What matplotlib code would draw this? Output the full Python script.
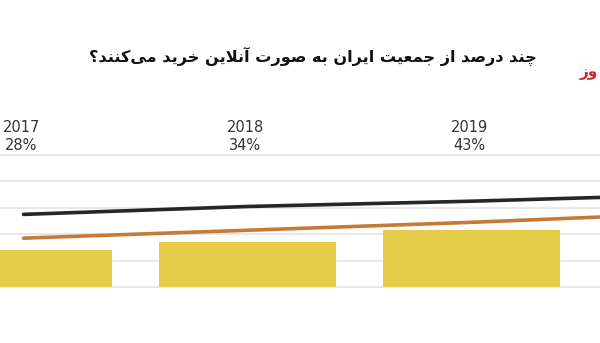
"""Share of Iran's population that shops online (cropped bar + line chart)."""
import matplotlib

matplotlib.use("Agg")
import matplotlib.pyplot as plt

years = ["2017", "2018", "2019", "2020"]
online_share = [28, 34, 43]          # yellow bars, labelled values
black_series = [55, 61, 65, 70]      # dark line
orange_series = [37, 43, 49, 56]     # orange line
grid_values = [0, 20, 40, 60, 80, 100]

TITLE = "چند درصد از جمعیت ایران به صورت آنلاین خرید می\u200cکنند؟"
LOGO = "وز"

# minimal Persian shaping: (isolated, final, initial, medial)
FORMS = {
    "ا": ("\uFE8D", "\uFE8E", None, None),
    "آ": ("\uFE81", "\uFE82", None, None),
    "ب": ("\uFE8F", "\uFE90", "\uFE91", "\uFE92"),
    "ت": ("\uFE95", "\uFE96", "\uFE97", "\uFE98"),
    "ج": ("\uFE9D", "\uFE9E", "\uFE9F", "\uFEA0"),
    "چ": ("\uFB7A", "\uFB7B", "\uFB7C", "\uFB7D"),
    "خ": ("\uFEA5", "\uFEA6", "\uFEA7", "\uFEA8"),
    "د": ("\uFEA9", "\uFEAA", None, None),
    "ر": ("\uFEAD", "\uFEAE", None, None),
    "ز": ("\uFEAF", "\uFEB0", None, None),
    "ص": ("\uFEB9", "\uFEBA", "\uFEBB", "\uFEBC"),
    "ع": ("\uFEC9", "\uFECA", "\uFECB", "\uFECC"),
    "ل": ("\uFEDD", "\uFEDE", "\uFEDF", "\uFEE0"),
    "م": ("\uFEE1", "\uFEE2", "\uFEE3", "\uFEE4"),
    "ن": ("\uFEE5", "\uFEE6", "\uFEE7", "\uFEE8"),
    "ه": ("\uFEE9", "\uFEEA", "\uFEEB", "\uFEEC"),
    "و": ("\uFEED", "\uFEEE", None, None),
    "ی": ("\uFBFC", "\uFBFD", "\uFBFE", "\uFBFF"),
    "ک": ("\uFB8E", "\uFB8F", "\uFB90", "\uFB91"),
}
LAM_ALEF = {"ا": ("\uFEFB", "\uFEFC"), "آ": ("\uFEF5", "\uFEF6")}


def joins_next(c):
    return c in FORMS and FORMS[c][2] is not None


def shape(text):
    out = []
    i = 0
    while i < len(text):
        c = text[i]
        if c == "\u200c":
            i += 1
            continue
        if c not in FORMS:
            out.append(c)
            i += 1
            continue
        prev_join = i > 0 and joins_next(text[i - 1])
        if c == "ل" and i + 1 < len(text) and text[i + 1] in LAM_ALEF:
            out.append(LAM_ALEF[text[i + 1]][1 if prev_join else 0])
            i += 2
            continue
        nxt = text[i + 1] if i + 1 < len(text) else ""
        next_join = joins_next(c) and nxt in FORMS
        iso, fin, ini, med = FORMS[c]
        if prev_join and next_join:
            out.append(med)
        elif prev_join:
            out.append(fin)
        elif next_join:
            out.append(ini)
        else:
            out.append(iso)
        i += 1
    return "".join(reversed(out))


fig = plt.figure(figsize=(6, 3.43), dpi=100)
ax = fig.add_axes([0, 0, 1, 1])

# 224 px per category, first category centred at 23.5 px; 1.32 px per percent
ax.set_xlim(-23.5 / 224, (600 - 23.5) / 224)
ax.set_ylim(-(343 - 287) / 1.32, 287 / 1.32)

x_bars = list(range(len(online_share)))
x_lines = list(range(len(years)))

ax.bar(x_bars, online_share, width=0.79, color="#e5cc48", zorder=2)
ax.plot(x_lines, orange_series, color="#c57a35", lw=2.6,
        solid_capstyle="round", zorder=3)
ax.plot(x_lines, black_series, color="#262626", lw=2.6,
        solid_capstyle="round", zorder=3)

ax.set_yticks(grid_values)
ax.grid(axis="y", color="#e2e2e2", lw=1.1, zorder=0)
ax.set_axisbelow(True)
ax.tick_params(left=False, bottom=False, labelleft=False, labelbottom=False)
for s in ax.spines.values():
    s.set_visible(False)

label_font = ["Liberation Sans Narrow", "DejaVu Sans"]
for i, v in enumerate(online_share):
    ax.text(i - 0.01, 121, years[i], ha="center", va="center", fontsize=10.5,
            color="#333333", family=label_font)
    ax.text(i - 0.01, 107.5, f"{v}%", ha="center", va="center", fontsize=10.5,
            color="#333333", family=label_font)

fig.text(0.522, 0.835, shape(TITLE), ha="center", va="center",
         fontsize=11.6, fontweight="bold", color="#111111")
fig.text(0.997, 0.79, shape(LOGO), ha="right", va="center",
         fontsize=11, fontweight="bold", color="#d2232a")

fig.savefig("out.png", dpi=100)
